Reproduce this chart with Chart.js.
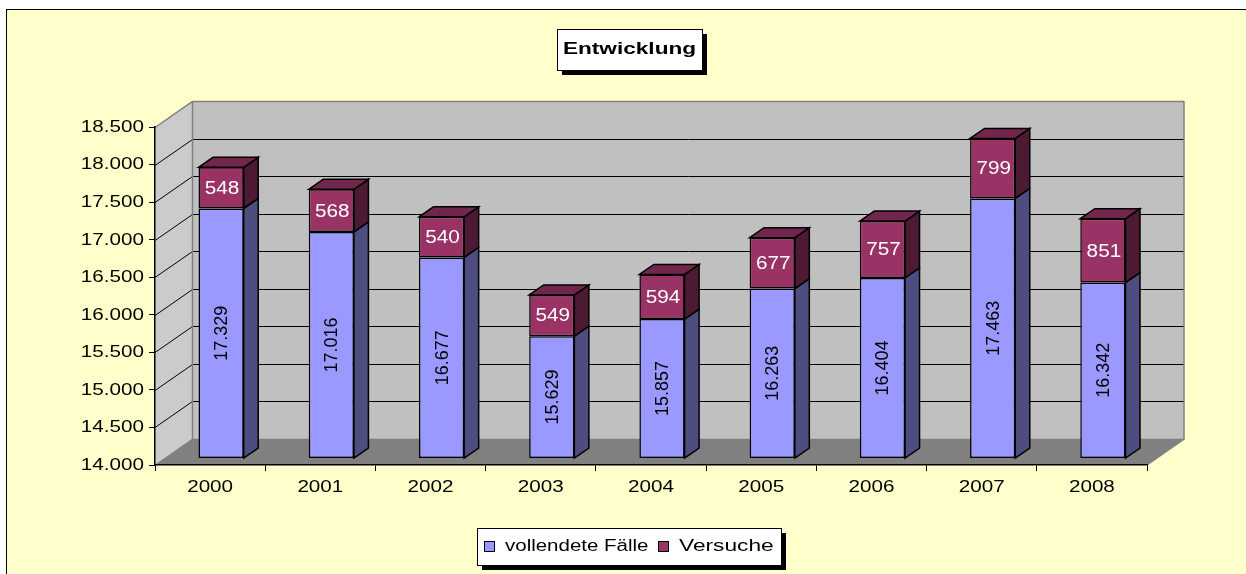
<!DOCTYPE html>
<html>
<head>
<meta charset="utf-8">
<script src="https://cdn.jsdelivr.net/npm/chart.js@4.4.0/dist/chart.umd.min.js"></script>
<style>
  html, body { margin: 0; padding: 0; background: #fff; overflow: hidden; }
  canvas { display: block; }
</style>
</head>
<body>
<canvas id="chart" width="1246" height="574"></canvas>
<script>
// --- data ---
const years = ['2000', '2001', '2002', '2003', '2004', '2005', '2006', '2007', '2008'];
const vollendete = [17329, 17016, 16677, 15629, 15857, 16263, 16404, 17463, 16342];
const versuche = [548, 568, 540, 549, 594, 677, 757, 799, 851];
const seriesNames = ['vollendete Fälle', 'Versuche'];
const yMin = 14000, yMax = 18500, yStep = 500;
const chartTitle = 'Entwicklung';

const FONT = 'Arial, "Liberation Sans", sans-serif';
const fmt = v => String(v).replace(/\B(?=(\d{3})+(?!\d))/g, '.');

// 3D look: back wall offset, bar offset inside the box, bar depth
const WALL = { dx: 37, dy: 26 };
const BAR_SHIFT = { dx: 11, dy: 6.5 };
const BAR_DEPTH = { dx: 14.5, dy: 10 };

// the old Excel export draws its text rather wide
const STRETCH = 1.29;

const colors = {
    bg: '#FFFFCC',
    backWall: '#C0C0C0',
    sideWall: '#CBCBCB',
    floor: '#808080',
    edge: '#808080',
    front: ['#9999FF', '#993366'],
    side: ['#4D4D80', '#4D1A33'],
    top: ['#7A7ACC', '#73264D'],
    label: ['#000000', '#FFFFFF']
};

function poly(ctx, pts, fill, stroke, lw) {
    ctx.beginPath();
    ctx.moveTo(pts[0][0], pts[0][1]);
    for (let i = 1; i < pts.length; i++) ctx.lineTo(pts[i][0], pts[i][1]);
    ctx.closePath();
    if (fill) { ctx.fillStyle = fill; ctx.fill(); }
    if (stroke) { ctx.strokeStyle = stroke; ctx.lineWidth = lw || 1; ctx.stroke(); }
}

function line(ctx, pts, color, lw) {
    ctx.beginPath();
    ctx.moveTo(pts[0][0], pts[0][1]);
    for (let i = 1; i < pts.length; i++) ctx.lineTo(pts[i][0], pts[i][1]);
    ctx.strokeStyle = color;
    ctx.lineWidth = lw || 1;
    ctx.stroke();
}

// text drawn with a horizontal stretch
function wideText(ctx, text, x, y, font, align, sx, color) {
    ctx.save();
    ctx.font = font;
    ctx.fillStyle = color || '#000';
    ctx.textAlign = align;
    ctx.textBaseline = 'middle';
    ctx.translate(x, y);
    ctx.scale(sx, 1);
    ctx.fillText(text, 0, 0);
    ctx.restore();
}

function boxWithShadow(ctx, x, y, w, h) {
    ctx.fillStyle = '#000';
    ctx.fillRect(x + 5, y + 5, w, h);
    ctx.fillStyle = '#fff';
    ctx.fillRect(x, y, w, h);
    ctx.strokeStyle = '#000';
    ctx.lineWidth = 1;
    ctx.strokeRect(x + 0.5, y + 0.5, w, h);
}

const excel3d = {
    id: 'excel3d',
    beforeDraw(chart) {
        const { ctx, chartArea: a, scales: { y } } = chart;
        const L = a.left, R = a.right, T = a.top, B = a.bottom;
        ctx.save();
        ctx.fillStyle = '#fff';
        ctx.fillRect(0, 0, chart.width, chart.height);
        ctx.fillStyle = colors.bg;
        ctx.fillRect(6, 9, chart.width, chart.height);
        ctx.strokeStyle = '#000';
        ctx.lineWidth = 1;
        ctx.strokeRect(6.5, 9.5, chart.width + 10, chart.height + 10);

        // walls and floor
        poly(ctx, [[L + WALL.dx, T - WALL.dy], [R + WALL.dx, T - WALL.dy], [R + WALL.dx, B - WALL.dy], [L + WALL.dx, B - WALL.dy]], colors.backWall);
        poly(ctx, [[L, T], [L + WALL.dx, T - WALL.dy], [L + WALL.dx, B - WALL.dy], [L, B]], colors.sideWall);
        poly(ctx, [[L, B], [R, B], [R + WALL.dx, B - WALL.dy], [L + WALL.dx, B - WALL.dy]], colors.floor);

        // grid lines on side and back wall
        y.ticks.forEach(t => {
            const py = Math.round(y.getPixelForValue(t.value)) + 0.5;
            const edge = t.value === y.min || t.value === y.max;
            line(ctx, [[L, py], [L + WALL.dx + 0.5, py - WALL.dy], [R + WALL.dx, py - WALL.dy]], edge ? colors.edge : '#000', edge ? 1.5 : 1);
        });
        line(ctx, [[L + WALL.dx + 0.5, T - WALL.dy], [L + WALL.dx + 0.5, B - WALL.dy]], colors.edge, 1.5);
        line(ctx, [[R + WALL.dx, T - WALL.dy], [R + WALL.dx, B - WALL.dy], [R, B]], colors.edge, 1.5);
        ctx.restore();
    },
    beforeDatasetsDraw(chart) {
        const ctx = chart.ctx;
        ctx.save();
        ctx.translate(BAR_SHIFT.dx, -BAR_SHIFT.dy);
    },
    afterDatasetsDraw(chart) {
        const ctx = chart.ctx;
        const last = chart.data.datasets.length - 1;
        chart.data.datasets.forEach((ds, di) => {
            const meta = chart.getDatasetMeta(di);
            meta.data.forEach(bar => {
                const { x, y, base, width } = bar.getProps(['x', 'y', 'base', 'width'], true);
                const left = x - width / 2, right = x + width / 2;
                const top = Math.min(y, base), bottom = Math.max(y, base);
                poly(ctx, [[right, top], [right + BAR_DEPTH.dx, top - BAR_DEPTH.dy], [right + BAR_DEPTH.dx, bottom - BAR_DEPTH.dy], [right, bottom]], colors.side[di], '#000', 1.5);
                if (di === last) {
                    poly(ctx, [[left, top], [left + BAR_DEPTH.dx, top - BAR_DEPTH.dy], [right + BAR_DEPTH.dx, top - BAR_DEPTH.dy], [right, top]], colors.top[di], '#000', 1.5);
                }
            });
        });

        // value labels
        chart.data.datasets.forEach((ds, di) => {
            const meta = chart.getDatasetMeta(di);
            meta.data.forEach((bar, i) => {
                const { x, y, base } = bar.getProps(['x', 'y', 'base'], true);
                const cy = (y + base) / 2;
                if (di === 0) {
                    ctx.save();
                    ctx.translate(x + 1, cy);
                    ctx.rotate(-Math.PI / 2);
                    wideText(ctx, fmt(ds.data[i]), 0, 0, '18px ' + FONT, 'center', 1, colors.label[di]);
                    ctx.restore();
                } else {
                    wideText(ctx, fmt(ds.data[i]), x + 1, cy + 1, '18px ' + FONT, 'center', 1.15, colors.label[di]);
                }
            });
        });
        ctx.restore();
    },
    afterDraw(chart) {
        const { ctx, chartArea: a, scales: { x, y } } = chart;
        ctx.save();

        // axis labels, positioned by the chart's own scales
        const tickFont = '16px ' + FONT;
        y.ticks.forEach((t, i) => {
            wideText(ctx, t.label, a.left - 11, y.getPixelForTick(i) + 0.5, tickFont, 'right', STRETCH);
        });
        x.ticks.forEach((t, i) => {
            wideText(ctx, t.label, x.getPixelForTick(i), a.bottom + 22.5, tickFont, 'center', STRETCH);
        });

        // title box
        boxWithShadow(ctx, 557, 29, 145, 41);
        wideText(ctx, chartTitle, 629.5, 49, 'bold 17px ' + FONT, 'center', 1.33);

        // legend box
        boxWithShadow(ctx, 477, 528, 304, 37);
        const itemX = [484, 658];
        chart.data.datasets.forEach((ds, di) => {
            const sx = itemX[di];
            ctx.fillStyle = ds.backgroundColor;
            ctx.fillRect(sx, 541, 10, 10);
            ctx.strokeStyle = '#000';
            ctx.lineWidth = 1;
            ctx.strokeRect(sx + 0.5, 541.5, 10, 10);
            wideText(ctx, ds.label, sx + 21, 547, '16px ' + FONT, 'left', di === 0 ? 1.28 : 1.42);
        });
        ctx.restore();
    }
};

new Chart(document.getElementById('chart'), {
    type: 'bar',
    data: {
        labels: years,
        datasets: [{
            label: seriesNames[0],
            data: vollendete,
            base: yMin,
            backgroundColor: colors.front[0],
            borderColor: '#000',
            borderWidth: 1.5,
            borderSkipped: false
        }, {
            label: seriesNames[1],
            data: versuche,
            backgroundColor: colors.front[1],
            borderColor: '#000',
            borderWidth: 1.5,
            borderSkipped: false
        }]
    },
    options: {
        responsive: false,
        animation: false,
        devicePixelRatio: 1,
        layout: { padding: { left: 0, top: 127, right: 99, bottom: 79 } },
        datasets: { bar: { barPercentage: 0.41, categoryPercentage: 1, clip: false } },
        plugins: {
            legend: { display: false },
            title: { display: false },
            tooltip: { enabled: false }
        },
        scales: {
            x: {
                stacked: true,
                grid: { drawOnChartArea: false, tickLength: 6, color: '#000', offset: true },
                border: { display: true, color: '#000', width: 1.5 },
                ticks: { display: false, maxRotation: 0 },
                afterFit: s => { s.height = 30; }
            },
            y: {
                stacked: true,
                min: yMin,
                max: yMax,
                grid: { drawOnChartArea: false, tickLength: 6, color: '#000' },
                border: { display: true, color: '#000', width: 1.5 },
                ticks: { display: false, stepSize: yStep, callback: v => fmt(v) },
                afterFit: s => { s.width = 155; }
            }
        }
    },
    plugins: [excel3d]
});
</script>
</body>
</html>
